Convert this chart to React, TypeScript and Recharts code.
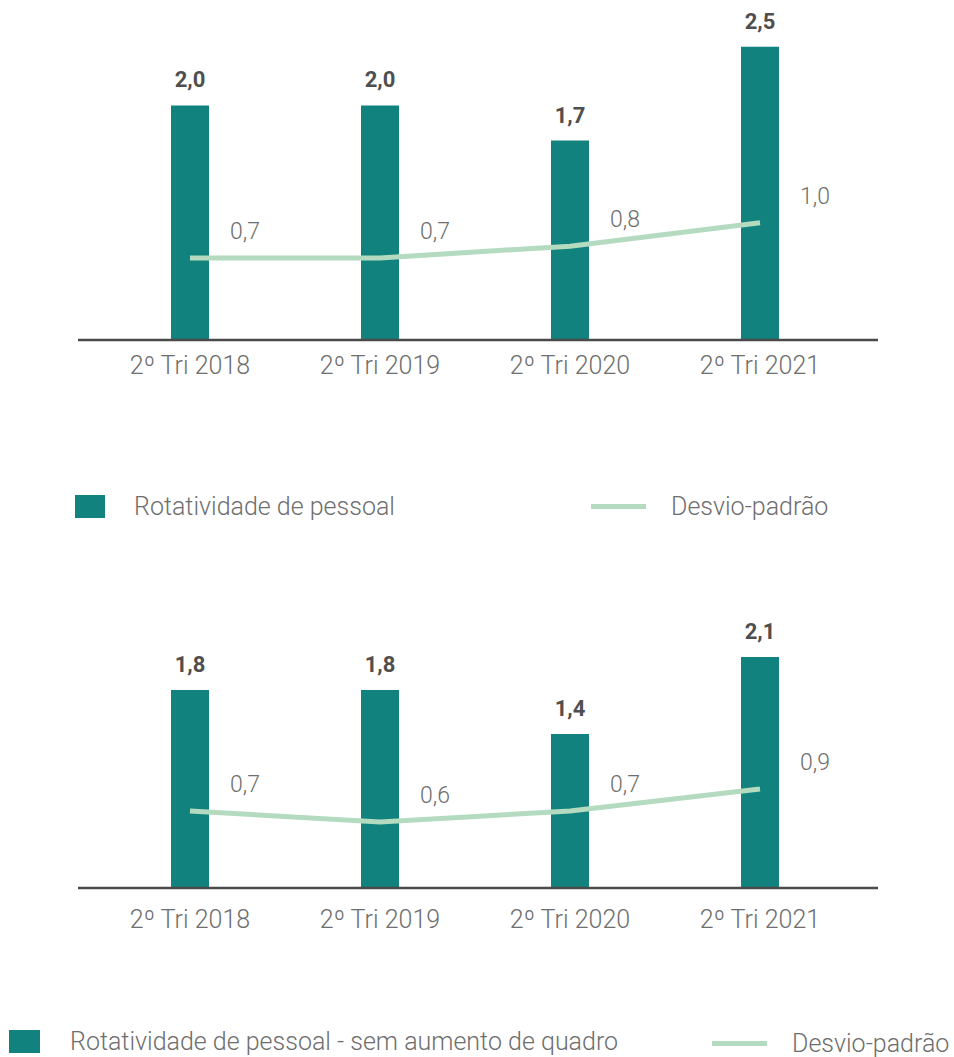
import { ComposedChart, Bar, Line, XAxis, YAxis, LabelList } from 'recharts';

const categories = ['2º Tri 2018', '2º Tri 2019', '2º Tri 2020', '2º Tri 2021'];

const turnover = [2.0, 2.0, 1.7, 2.5];
const turnoverDev = [0.7, 0.7, 0.8, 1.0];

const turnoverNoGrowth = [1.8, 1.8, 1.4, 2.1];
const turnoverNoGrowthDev = [0.7, 0.6, 0.7, 0.9];

const TEAL = '#11827d';
const MINT = '#b4dbbf';
const TEXT = '#6e6e6e';
const FONT = 'Roboto, "Noto Sans", sans-serif';

const fmt = (v: number) => v.toFixed(1).replace('.', ',');

const buildRows = (bars: number[], dev: number[]) =>
  categories.map((name, i) => ({ name, bar: bars[i], dev: dev[i] }));

const BarLabel = (props: any) => {
  const { x, y, width, value } = props;
  return (
    <text
      x={x + width / 2}
      y={y - 18}
      textAnchor="middle"
      fill="#4f4f4f"
      fontSize={22}
      fontWeight={700}
      fontFamily={FONT}
    >
      {fmt(value)}
    </text>
  );
};

const DevLabel = (props: any) => {
  const { x, y, value } = props;
  return (
    <text
      x={x + 40}
      y={y - 19}
      textAnchor="start"
      fill={TEXT}
      fontSize={23}
      fontWeight={300}
      fontFamily={FONT}
    >
      {fmt(value)}
    </text>
  );
};

type PanelProps = {
  bars: number[];
  dev: number[];
  height: number;
  marginTop: number;
  marginBottom: number;
  max: number;
  tickMargin: number;
};

const Panel = ({ bars, dev, height, marginTop, marginBottom, max, tickMargin }: PanelProps) => (
  <ComposedChart
    width={954}
    height={height}
    data={buildRows(bars, dev)}
    margin={{ top: marginTop, right: 76, bottom: marginBottom, left: 78 }}
  >
    <XAxis
      dataKey="name"
      padding={{ left: 17, right: 23 }}
      axisLine={{ stroke: '#4a4a4a', strokeWidth: 2.5 }}
      tickLine={false}
      tickSize={0}
      tickMargin={tickMargin}
      tick={{ fill: TEXT, fontSize: 25, fontWeight: 300, fontFamily: FONT }}
      interval={0}
    />
    <YAxis hide domain={[0, max]} />
    <Bar dataKey="bar" fill={TEAL} barSize={38} isAnimationActive={false}>
      <LabelList dataKey="bar" content={BarLabel} />
    </Bar>
    <Line
      type="linear"
      dataKey="dev"
      stroke={MINT}
      strokeWidth={5}
      dot={false}
      activeDot={false}
      isAnimationActive={false}
    >
      <LabelList dataKey="dev" content={DevLabel} />
    </Line>
  </ComposedChart>
);

const legendText = {
  position: 'absolute' as const,
  fontFamily: FONT,
  fontWeight: 300,
  fontSize: 25,
  color: TEXT,
  lineHeight: '24px',
  whiteSpace: 'nowrap' as const,
};

export default function App() {
  return (
    <div style={{ position: 'absolute', left: 0, top: 0, width: 954, height: 1057, background: '#fff' }}>
      <div style={{ position: 'absolute', left: 0, top: 0 }}>
        <Panel
          bars={turnover}
          dev={turnoverDev}
          height={400}
          marginTop={35}
          marginBottom={30}
          max={2.6}
          tickMargin={16}
        />
      </div>

      <div style={{ position: 'absolute', left: 75, top: 495, width: 30, height: 23, background: TEAL }} />
      <div style={{ ...legendText, left: 134, top: 495 }}>Rotatividade de pessoal</div>
      <div style={{ position: 'absolute', left: 591, top: 504, width: 55, height: 5, background: MINT }} />
      <div style={{ ...legendText, left: 671, top: 495 }}>Desvio-padrão</div>

      <div style={{ position: 'absolute', left: 0, top: 580 }}>
        <Panel
          bars={turnoverNoGrowth}
          dev={turnoverNoGrowthDev}
          height={380}
          marginTop={44}
          marginBottom={42}
          max={2.4}
          tickMargin={22}
        />
      </div>

      <div style={{ position: 'absolute', left: 9, top: 1030, width: 31, height: 23, background: TEAL }} />
      <div style={{ ...legendText, left: 70, top: 1030 }}>Rotatividade de pessoal - sem aumento de quadro</div>
      <div style={{ position: 'absolute', left: 712, top: 1041, width: 55, height: 5, background: MINT }} />
      <div style={{ ...legendText, left: 792, top: 1032 }}>Desvio-padrão</div>
    </div>
  );
}
